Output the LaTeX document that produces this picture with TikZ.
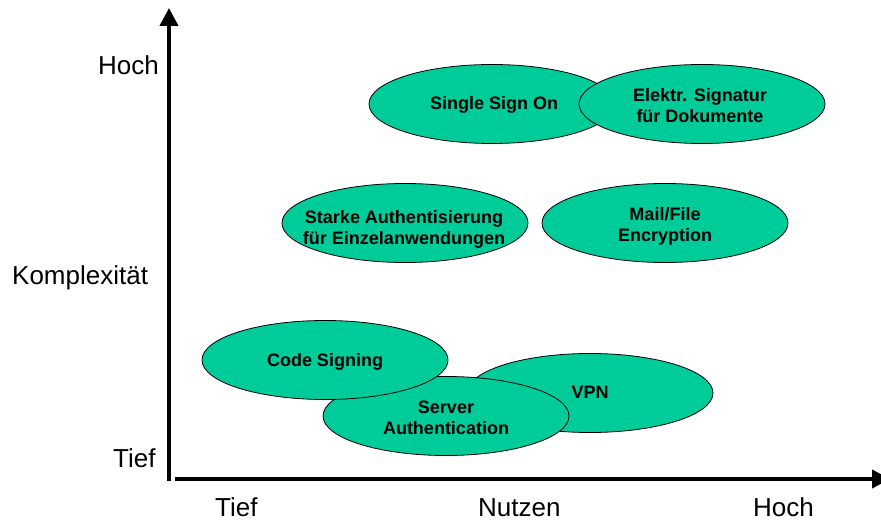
\documentclass[tikz,border=0pt]{standalone}
\usepackage{fontspec}
\setmainfont{Liberation Sans}
\usetikzlibrary{shapes.geometric,arrows.meta}
\definecolor{blobgreen}{RGB}{0,204,153}
\tikzset{
  blob/.style={ellipse, draw=black, line width=0.8bp, fill=blobgreen,
    minimum width=246bp, minimum height=79bp, inner sep=0pt},
  blobtext/.style={align=center, font=\fontsize{18bp}{21bp}\selectfont\bfseries, inner sep=0pt},
  axislabel/.style={font=\fontsize{26bp}{30bp}\selectfont, inner sep=0pt, anchor=base west},
  axisline/.style={line width=4bp, -{Triangle[width=18bp,length=18bp]}}
}
\begin{document}
\begin{tikzpicture}[x=1bp,y=-1bp]
\useasboundingbox (0,0) rectangle (881,522);
% axes
\coordinate (yb) at (169,481);
\coordinate (yt) at (169,8);
\coordinate (xb) at (175,479);
\coordinate (xt) at (890,479);
\draw[axisline] (yb) -- (yt);
\draw[axisline] (xb) -- (xt);
% axis labels
\node[axislabel] (yhoch) at (98,75) {Hoch};
\node[axislabel] (ykomp) at (12,285) {Komplexität};
\node[axislabel] (ytief) at (113,467) {Tief};
\node[axislabel] (xtief) at (215,516) {Tief};
\node[axislabel] (xnutz) at (478,516) {Nutzen};
\node[axislabel] (xhoch) at (753,516) {Hoch};
% ellipses
\node[blob] (sso) at (492,104) {};
\node[blobtext] (ssot) at (494,105) {Single Sign On};
\node[blob] (elek) at (702,104) {};
\node[blobtext] (elekt) at (700,106) {Elektr. Signatur\\für Dokumente};
\node[blob] (stark) at (405,223) {};
\node[blobtext] (starkt) at (404,229) {Starke Authentisierung\\für Einzelanwendungen};
\node[blob] (mail) at (665,223) {};
\node[blobtext] (mailt) at (665,226) {Mail/File\\Encryption};
\node[blob] (vpn) at (590,393) {};
\node[blobtext] (vpnt) at (590,392) {VPN};
\node[blob] (serv) at (446,416) {};
\node[blobtext] (servt) at (446,418) {Server\\Authentication};
\node[blob] (code) at (325,360) {};
\node[blobtext] (codet) at (325,362) {Code Signing};
\end{tikzpicture}
\end{document}
